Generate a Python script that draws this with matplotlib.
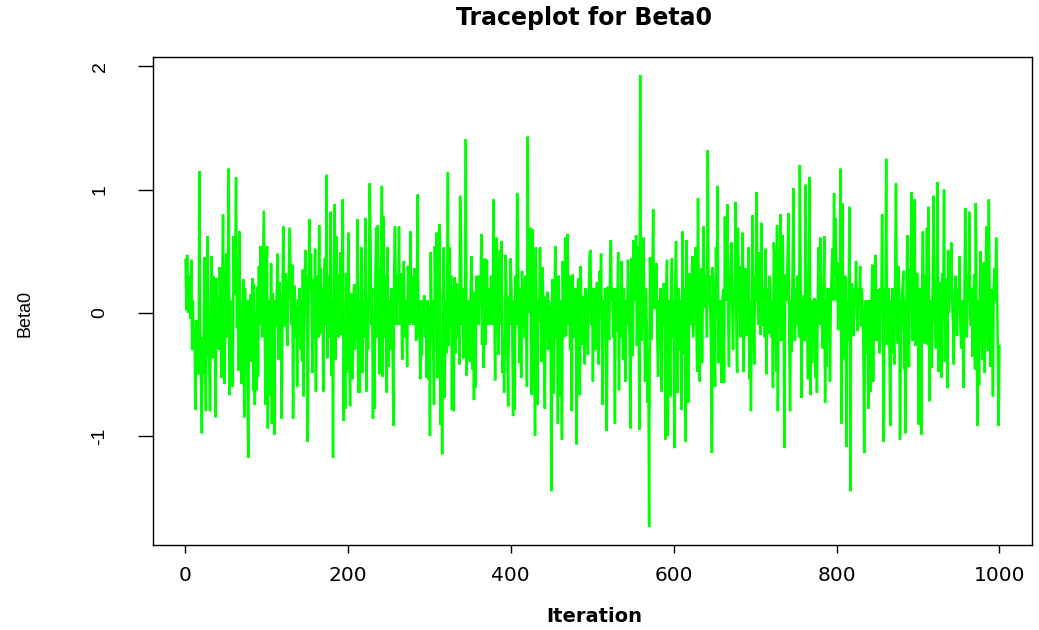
import matplotlib
matplotlib.use("Agg")
import matplotlib.pyplot as plt

title = "Traceplot for Beta0"
x_label = "Iteration"
y_label = "Beta0"
x_ticks = [0, 200, 400, 600, 800, 1000]
y_ticks = [-1, 0, 1, 2]
y_tick_labels = ["-1", "0", "1", "2"]

beta0 = [
    0.43, 0.02, 0.47, 0.0, 0.18, 0.3, -0.05, 0.43, -0.3, 0.1,
    -0.28, -0.12, -0.79, -0.06, -0.45, -0.2, -0.5, 1.15, -0.35, -0.55,
    -0.98, -0.2, -0.5, 0.45, -0.3, -0.8, 0.1, 0.62, -0.25, -0.4,
    -0.8, 0.05, 0.46, -0.37, 0.3, -0.2, 0.1, -0.85, 0.28, -0.15,
    0.1, -0.3, 0.37, 0.0, -0.53, 0.2, 0.8, -0.1, -0.58, 0.15,
    0.48, -0.2, 0.3, 1.17, -0.67, 0.1, -0.2, -0.4, -0.6, 0.62,
    0.15, 0.4, 1.1, -0.12, 0.1, -0.47, 0.66, 0.05, -0.3, -0.58,
    0.0, 0.27, -0.85, 0.2, -0.3, 0.1, -0.6, -1.18, 0.1, -0.19,
    0.15, -0.4, 0.28, -0.63, 0.23, -0.75, 0.0, -0.63, 0.21, -0.52,
    0.38, -0.1, 0.54, 0.1, -0.2, 0.3, 0.83, 0.05, -0.75, 0.2,
    0.54, -0.94, -0.3, 0.1, -0.67, 0.4, -0.9, 0.16, -0.2, -0.99,
    0.1, -0.11, 0.2, 0.48, -0.38, 0.25, -0.1, 0.15, -0.86, 0.2,
    0.7, -0.11, 0.2, 0.32, -0.1, -0.27, 0.15, 0.4, 0.69, 0.25,
    -0.1, 0.39, -0.86, 0.1, 0.22, -0.2, 0.05, -0.6, 0.11, -0.15,
    0.2, -0.3, 0.1, -0.4, 0.35, -0.68, 0.2, 0.51, 0.0, 0.3,
    -1.05, 0.1, 0.76, 0.2, 0.48, -0.1, -0.49, 0.27, -0.1, 0.52,
    -0.64, 0.1, 0.3, -0.2, 0.71, -0.17, 0.36, -0.1, 0.2, -0.64,
    0.2, 0.44, -0.1, 1.12, -0.37, 0.3, 0.0, -0.2, 0.82, -0.51,
    0.1, -1.18, 0.4, 0.88, -0.38, 0.62, 0.1, 0.31, -0.2, 0.1,
    0.49, -0.18, 0.2, 0.92, -0.88, -0.2, -0.78, 0.32, -0.49, 0.1,
    0.65, -0.3, -0.76, 0.16, -0.1, -0.54, 0.1, 0.23, -0.3, 0.15,
    -0.2, 0.76, -0.65, 0.1, -0.65, 0.2, 0.53, -0.49, 0.0, -0.2,
    0.3, 0.77, -0.64, 0.1, -0.3, 0.2, 1.05, 0.61, -0.1, 0.2,
    -0.86, 0.0, -0.78, 0.3, 0.69, -0.2, 0.71, 0.1, -0.5, 0.2,
    0.4, 1.03, -0.52, 0.78, -0.2, 0.3, 0.1, -0.65, 0.53, -0.44,
    0.1, -0.04, -0.3, 0.2, -0.2, -0.92, 0.3, 0.7, 0.1, -0.1,
    0.3, 0.1, 0.7, -0.1, 0.32, 0.0, -0.38, 0.2, 0.42, -0.2,
    0.1, -0.1, -0.44, 0.38, 0.1, -0.1, 0.66, -0.08, 0.3, 0.25,
    -0.1, 0.36, 0.1, -0.23, 0.2, 0.96, -0.2, 0.1, -0.54, 0.0,
    -0.35, 0.1, -0.02, 0.14, -0.2, 0.0, -0.53, 0.1, -0.54, 0.05,
    -1.0, 0.49, -0.2, 0.1, -0.3, -0.75, 0.54, -0.1, 0.65, -0.53,
    0.2, 0.3, 0.72, -0.91, -0.3, -1.15, 0.13, 0.53, -0.69, 0.1,
    -0.33, 0.2, 1.14, -0.27, 0.53, 0.1, 0.3, -0.79, 0.21, -0.8,
    0.29, -0.33, 0.1, 0.24, -0.2, 0.1, -0.42, 0.95, 0.7, -0.1,
    0.2, -0.37, 0.1, -0.2, 1.41, -0.51, 0.0, -0.17, 0.1, -0.4,
    0.2, 0.46, -0.46, 0.1, -0.71, 0.17, -0.61, 0.3, -0.04, 0.2,
    -0.1, 0.3, 0.1, 0.64, -0.26, 0.42, -0.45, 0.44, -0.26, 0.2,
    0.43, -0.1, 0.2, 0.1, -0.1, 0.3, 0.1, -0.1, 0.92, 0.02,
    -0.55, 0.2, 0.61, 0.1, -0.34, 0.2, 0.51, -0.1, 0.58, -0.49,
    -0.2, -0.65, -0.21, 0.47, 0.1, -0.3, -0.76, 0.13, -0.1, 0.44,
    0.2, -0.1, -0.84, 0.1, -0.79, 0.3, -0.1, 0.97, 0.73, -0.06,
    -0.41, 0.2, -0.53, 0.34, 0.1, 0.07, -0.2, 0.3, 0.1, -0.6,
    1.43, 0.0, 0.3, 0.69, -0.2, -0.67, 0.68, 0.1, -0.3, -1.0,
    0.53, -0.2, -0.75, 0.1, -0.07, 0.53, 0.2, -0.4, 0.37, 0.1,
    -0.3, -0.78, 0.13, -0.15, 0.17, -0.3, 0.1, -0.2, 0.05, -1.45,
    0.27, -0.1, -0.66, 0.2, 0.54, -0.2, 0.1, -0.9, 0.3, -0.68,
    0.1, -0.2, -1.03, 0.42, -0.1, -0.2, 0.61, -0.19, 0.2, 0.64,
    -0.1, 0.3, -0.3, 0.1, -0.8, 0.31, -0.1, -0.2, 0.1, 0.2,
    -1.07, 0.1, 0.28, -0.1, -0.67, 0.38, 0.0, -0.26, 0.13, 0.0,
    -0.42, 0.2, 0.11, -0.1, -0.34, 0.2, 0.47, 0.51, -0.1, 0.2,
    -0.56, 0.2, 0.09, -0.3, 0.1, 0.25, -0.2, -0.42, 0.34, 0.1,
    0.48, -0.1, -0.75, 0.1, -0.06, 0.2, -0.3, -0.96, 0.21, -0.1,
    -0.22, 0.3, 0.59, 0.1, 0.2, -0.2, 0.1, -0.9, 0.2, -0.15,
    0.1, 0.49, -0.63, 0.1, -0.2, 0.42, 0.1, -0.38, 0.2, -0.05,
    -0.56, 0.1, -0.1, 0.43, 0.0, -0.2, -0.94, 0.44, 0.1, -0.35,
    0.59, 0.1, 0.3, 0.63, -0.27, 0.2, 0.54, -0.95, 1.93, -0.1,
    -0.23, 0.3, 0.61, 0.1, -0.56, 0.2, -0.06, -0.73, -0.3, -1.74,
    0.45, 0.1, -0.22, 0.3, 0.84, 0.03, 0.2, 0.03, 0.4, -0.2,
    -0.52, 0.1, -0.08, 0.2, -0.64, 0.13, -0.1, 0.24, 0.1, -1.03,
    0.2, 0.43, -1.0, 0.1, -0.3, -0.68, 0.2, 0.44, -0.2, 0.1,
    -1.1, 0.2, 0.58, 0.0, -0.65, 0.2, 0.09, -0.3, 0.1, -0.79,
    0.66, 0.1, -0.34, 0.2, -1.05, 0.59, 0.0, -0.73, 0.1, 0.32,
    -0.1, 0.2, 0.46, -0.2, 0.1, 0.2, 0.53, -0.1, -0.48, 0.93,
    0.1, -0.56, 0.2, 0.36, -0.41, 0.2, 0.7, 0.1, 0.04, 0.3,
    -0.2, 1.32, 0.07, 0.3, 0.05, -0.3, -1.14, 0.37, 0.1, -0.2,
    -0.6, 0.53, 0.2, 1.03, -0.41, -0.25, 0.1, -0.2, -0.57, 0.1,
    0.19, -0.57, 0.78, 0.1, 0.4, 0.88, -0.06, -0.44, 0.2, 0.36,
    0.57, 0.1, -0.3, 0.2, 0.1, 0.9, -0.1, -0.49, 0.69, 0.1,
    0.38, -0.2, 0.1, 0.3, 0.65, -0.48, 0.1, 0.36, 0.0, -0.19,
    0.2, 0.53, -0.54, 0.1, -0.8, 0.2, 0.79, 0.1, -0.42, 0.3,
    0.1, 0.98, 0.2, -0.1, 0.49, 0.1, -0.18, 0.73, -0.11, 0.2,
    0.14, -0.2, 0.52, -0.5, 0.1, 0.2, -0.17, 0.3, 0.08, -0.2,
    0.1, -0.61, 0.57, 0.44, 0.0, -0.48, 0.71, -0.8, 0.2, 0.1,
    0.8, -0.23, 0.3, 0.63, 0.1, -1.1, 0.2, 0.31, 0.1, 0.5,
    0.81, -0.2, -0.8, 0.1, -0.32, 0.3, 1.01, 0.1, -0.23, 0.2,
    -0.1, 0.3, 0.1, -0.2, 1.2, 0.2, -0.69, 0.1, -0.1, 0.14,
    -0.23, 1.04, 0.1, -0.1, -0.54, 0.3, 1.1, -0.67, 0.1, -0.41,
    0.09, -0.1, 0.12, -0.53, 0.1, -0.65, 0.1, 0.53, -0.1, 0.61,
    0.2, 0.0, -0.29, 0.1, 0.62, -0.73, 0.1, -0.44, 0.2, -0.04,
    0.2, -0.56, 0.1, 0.3, 0.52, 0.1, 0.97, 0.3, 0.77, 0.1,
    0.41, -0.14, 0.2, -0.1, 1.17, -0.9, 0.89, 0.1, -0.1, -0.38,
    0.3, -1.09, 0.1, -0.23, 0.2, 0.86, -1.45, 0.1, 0.24, -0.1,
    -0.19, 0.2, 0.1, 0.42, 0.0, -0.15, 0.2, 0.1, 0.38, -0.11,
    0.2, 0.04, -0.3, -1.14, -0.11, 0.1, -0.33, 0.1, -0.78, -0.06,
    0.1, -0.64, 0.1, 0.39, -0.56, 0.14, 0.2, 0.47, -0.23, 0.1,
    0.19, -0.1, -0.33, 0.2, 0.1, 0.8, -0.2, -1.05, 0.2, 0.1,
    1.25, -0.26, 0.01, 0.2, -0.3, -0.92, 0.1, -0.33, 0.2, -0.2,
    -0.42, 0.3, 1.05, 0.1, -0.25, 0.38, 0.1, -1.03, -0.19, 0.1,
    0.2, 0.34, -0.46, 0.1, -0.98, 0.2, 0.63, -0.1, -0.44, 0.36,
    0.2, 0.98, -0.23, 0.2, 0.5, 0.92, -0.27, 0.1, 0.32, 0.0,
    -0.91, 0.2, 0.16, -0.99, 0.2, 0.66, 0.1, -0.25, 0.3, 0.1,
    0.69, -0.26, 0.86, -0.72, -0.16, 0.1, -0.45, 0.19, 0.95, 0.1,
    -0.1, -0.29, 0.3, 1.06, -0.48, 0.1, 0.25, -0.2, -0.53, 0.32,
    0.1, 1.0, -0.4, 0.1, 0.28, -0.61, 0.51, 0.0, 0.2, 0.24,
    0.57, 0.1, -0.1, -0.42, 0.1, 0.3, 0.0, -0.19, 0.2, 0.1,
    0.46, -0.1, -0.29, 0.1, -0.2, -0.61, 0.1, 0.85, 0.2, -0.2,
    0.3, 0.1, 0.82, 0.0, -0.11, 0.2, -0.36, 0.1, 0.31, -0.46,
    0.89, -0.1, -0.92, 0.1, -0.59, 0.2, 0.5, 0.0, -0.38, 0.2,
    0.41, -0.49, 0.2, 0.7, 0.1, -0.31, 0.92, 0.1, -0.44, 0.19,
    0.0, -0.68, 0.2, 0.36, 0.1, 0.61, 0.2, -0.3, -0.92, -0.27,
]
iterations = list(range(1, len(beta0) + 1))

W, H = 1039, 630
fig = plt.figure(figsize=(W / 100, H / 100), dpi=100)
fig.patch.set_facecolor("white")

left_px, right_px, top_px, bottom_px = 153, 1032, 57, 545
ax = fig.add_axes([left_px / W, 1 - bottom_px / H,
                   (right_px - left_px) / W, (bottom_px - top_px) / H])

ax.plot(iterations, beta0, color="#00ff00", lw=1.8, solid_joinstyle="miter")

n = len(beta0)
xspan = n - 1
ax.set_xlim(1 - 0.04 * xspan, n + 0.04 * xspan)
lo, hi = min(beta0), max(beta0)
ax.set_ylim(lo - 0.04 * (hi - lo), hi + 0.04 * (hi - lo))

for s in ax.spines.values():
    s.set_color("black")
    s.set_linewidth(1.0)

wide = "DejaVu Sans"
narrow = "Liberation Sans"
ax.set_xticks(x_ticks)
ax.set_xticklabels([str(t) for t in x_ticks], fontsize=14.5, family=wide)
ax.set_yticks(y_ticks)
ax.set_yticklabels(y_tick_labels, fontsize=14, family=narrow,
                   rotation=90, va="center")
ax.tick_params(axis="x", direction="out", length=6, width=1.0,
               color="black", pad=9)
ax.tick_params(axis="y", direction="out", length=11, width=1.0,
               color="black", pad=21)

cx = (left_px + right_px) / 2 / W
fig.text(584 / W, 1 - 18 / H, title, ha="center", va="center",
         fontsize=17, fontweight="bold", family=wide)
fig.text(594 / W, 1 - 616 / H, x_label, ha="center", va="center",
         fontsize=14, fontweight="bold", family=wide)
fig.text(25 / W, 1 - 313 / H, y_label, ha="center", va="center",
         rotation=90, fontsize=13, family=narrow)

fig.savefig("out.png", dpi=100, facecolor="white")
